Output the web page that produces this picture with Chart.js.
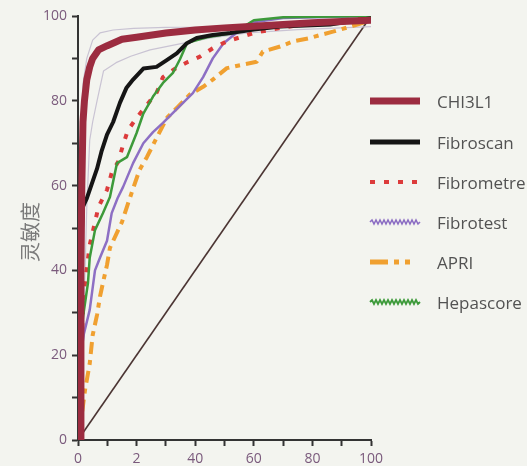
<!DOCTYPE html>
<html><head><meta charset="utf-8">
<script src="https://cdn.jsdelivr.net/npm/chart.js@4/dist/chart.umd.min.js"></script>
<style>
html,body{margin:0;padding:0;background:#f3f4ef;}
#wrap{position:relative;width:527px;height:466px;overflow:hidden;}
#legend{position:absolute;left:0;top:0;width:527px;height:466px;pointer-events:none;}
.item{position:absolute;left:368px;height:20px;display:flex;align-items:center;font-family:"Open Sans","Noto Sans",sans-serif;font-size:17px;color:#525252;white-space:nowrap;}
.item svg{width:56px;height:14px;margin-right:13px;flex:none;}
#ytitle{position:absolute;left:30px;top:232px;transform:translate(-50%,-50%) rotate(-90deg);font-family:"Noto Sans CJK SC",sans-serif;font-size:20px;font-weight:400;color:#7a7a7a;white-space:nowrap;line-height:1;}
</style></head>
<body><div id="wrap"><canvas id="c" width="527" height="466"></canvas><div id="legend"></div><div id="ytitle">灵敏度</div></div>
<script>
const seriesNames = ["CHI3L1","Fibroscan","Fibrometre","Fibrotest","APRI","Hepascore"];
const xTickLabels = ["0","2","40","60","80","100"];
const yTickLabels = ["0","20","40","60","80","100"];

const chi3l1 = [[0,0],[1,0],[1,40],[1.3,60],[1.7,75],[2.2,80],[3,85],[4,88],[5,90],[7,92],[10,93],[15,94.5],[20,95],[30,96],[40,96.7],[50,97.2],[60,97.6],[70,98],[80,98.4],[90,98.7],[100,99]];
const chiUpper = [[0,0],[0.3,40],[0.8,70],[1.7,84],[3,90],[5,94.3],[7.5,96],[12,96.7],[19,97.1],[30,97.3],[42,97.4],[60,98],[80,98.6],[100,99.2]];
const chiLower = [[1.5,0],[2,30],[3,55],[4,70.7],[5,75],[6.5,80],[8.7,87],[13,89],[18,90.5],[24.6,92],[36,93.6],[45,94.8],[58,96],[75,96.8],[100,97.5]];
const fibroscan = [[0,0],[0.3,20],[0.5,30],[1,45],[1.7,55],[3,57],[5,61],[6.5,64],[8,68],[9.9,72],[12,75],[14.3,79.5],[16.5,83],[18.8,85],[22.3,87.6],[26.8,88],[30.3,89.6],[33.7,91.2],[37,93.5],[40.5,94.8],[46,95.5],[52,96],[60,96.8],[69,97.5],[86,98],[100,99.5]];
const fibrometre = [[0,0],[1,20],[2,35],[4,46],[7,55],[9.9,59],[11.5,63],[13.7,65.6],[15.4,69.6],[17,73],[20,76],[22.9,78.5],[26.9,82],[29,85.6],[33,87.5],[37.6,89.2],[41.6,90.4],[46,92.4],[50.8,94],[60,96],[70,97.3],[80,98.2],[90,99],[100,99.5]];
const fibrotest = [[0,0],[0.3,15],[0.7,19],[2,25],[4,30.7],[5.8,40],[7.5,43],[9.9,47],[11.5,53.5],[13.5,57],[15.4,59.7],[18.8,65.3],[22.3,70],[25.6,72.6],[29,74.8],[34.8,78.8],[39.2,81.8],[42.7,85.6],[46,90],[49.6,93.5],[54,96],[60,98.5],[70,99.5],[100,100]];
const apri = [[0,0],[0.7,3],[1.5,7],[2.4,11.8],[4,18],[5,24.7],[6.5,29.5],[7.5,33.8],[8.5,37],[9.9,41.3],[10.9,45.3],[13.7,49.5],[15,51.4],[16.7,55],[18.4,58.5],[21,63.7],[23.5,66.7],[27,71.5],[30.4,76],[34,78.5],[38.2,81.5],[42.7,83.3],[46,85],[50.8,87.7],[55.3,88.4],[61,89.2],[63.1,91.6],[69,92.8],[73.4,94],[79.2,94.8],[82.6,95.5],[87,96.3],[93,97.5],[100,99]];
const hepascore = [[0,0],[0.5,20],[1.7,29],[3.4,37],[4,43],[5.8,49.5],[8.5,53.5],[10.9,57.3],[13.3,65.3],[16.7,66.7],[20,72.4],[22.3,77],[25.6,81],[29,84.2],[32.4,86.6],[34.8,89.8],[37.2,93.6],[40.6,94.3],[44,95],[53,96],[60,99],[70,99.7],[100,100]];
const diagonal = [[0,0],[100,100]];

const toPts = a => a.map(p => ({x:p[0], y:p[1]}));
const styles = {
  CHI3L1:{c:"#9c2c40",w:7},
  Fibroscan:{c:"#151515",w:4},
  Fibrometre:{c:"#dc3b3b",w:4,d:[5,9]},
  Fibrotest:{c:"#8d6fc4",w:2.5},
  APRI:{c:"#f0a030",w:4,d:[12,6,5,6]},
  Hepascore:{c:"#3d9a3a",w:2.5}
};
function ds(label,data,c,w,d,order){
  return {label,data:toPts(data),borderColor:c,borderWidth:w,borderDash:d||[],pointRadius:0,fill:false,tension:0,order:order||0,borderCapStyle:'butt',borderJoinStyle:'round'};
}
const datasets = [
  ds("diag",diagonal,"#4b3533",1.6,null,10),
  ds("ciU",chiUpper,"#c9c3d3",1.2,null,9),
  ds("ciL",chiLower,"#c9c3d3",1.2,null,9),
  ds("APRI",apri,styles.APRI.c,styles.APRI.w,styles.APRI.d,6),
  ds("Fibrotest",fibrotest,styles.Fibrotest.c,styles.Fibrotest.w,null,5),
  ds("Fibrometre",fibrometre,styles.Fibrometre.c,styles.Fibrometre.w,styles.Fibrometre.d,4),
  ds("Hepascore",hepascore,styles.Hepascore.c,styles.Hepascore.w,null,3),
  ds("Fibroscan",fibroscan,styles.Fibroscan.c,styles.Fibroscan.w,null,2),
  ds("CHI3L1",chi3l1,styles.CHI3L1.c,styles.CHI3L1.w,null,1)
];
const tickColor = "#7a5a7c";
const bg = {id:'bg',beforeDraw(ch){const x=ch.ctx;x.save();x.fillStyle='#f3f4ef';x.fillRect(0,0,ch.width,ch.height);x.restore();}};
new Chart(document.getElementById('c'),{
  type:'line',
  data:{datasets},
  options:{
    responsive:false,animation:false,
    layout:{padding:{left:0,right:156,top:16,bottom:0}},
    plugins:{legend:{display:false},tooltip:{enabled:false}},
    scales:{
      x:{type:'linear',min:0,max:100,
        afterFit(s){s.height=26;},
        grid:{drawOnChartArea:false,drawTicks:true,tickLength:6,tickColor:'#333',tickWidth:2},
        border:{display:true,color:'#333',width:2},
        ticks:{stepSize:10,autoSkip:false,maxRotation:0,padding:5,color:tickColor,font:{family:"Open Sans",size:14},
          callback:(v)=> (v%20===0? xTickLabels[v/20] : '')}
      },
      y:{type:'linear',min:0,max:100,
        afterFit(s){s.width=78;},
        grid:{drawOnChartArea:false,drawTicks:true,tickLength:6,tickColor:'#333',tickWidth:2},
        border:{display:true,color:'#333',width:2},
        ticks:{stepSize:10,autoSkip:false,padding:5,color:tickColor,font:{family:"Open Sans",size:14},
          callback:(v)=> (v%20===0? yTickLabels[v/20] : '')},
        title:{display:false}
      }
    }
  },
  plugins:[bg]
});
// legend
const legendTops=[101,142,182,222,262,302];
const samples = {
  CHI3L1:'<line x1="2" y1="7" x2="52" y2="7" stroke="#9c2c40" stroke-width="7"/>',
  Fibroscan:'<line x1="2" y1="7" x2="52" y2="7" stroke="#151515" stroke-width="5"/>',
  Fibrometre:'<line x1="2" y1="7" x2="52" y2="7" stroke="#dc3b3b" stroke-width="4" stroke-dasharray="5 9"/>',
  Fibrotest:'<polyline points="2,7 4,5 6,9 8,5 10,9 12,5 14,9 16,5 18,9 20,5 22,9 24,5 26,9 28,5 30,9 32,5 34,9 36,5 38,9 40,5 42,9 44,5 46,9 48,5 50,9 52,7" fill="none" stroke="#8d6fc4" stroke-width="1.6"/>',
  APRI:'<line x1="2" y1="7" x2="52" y2="7" stroke="#f0a030" stroke-width="5" stroke-dasharray="18 6 5 6 5"/>',
  Hepascore:'<polyline points="2,7 4,5 6,9 8,5 10,9 12,5 14,9 16,5 18,9 20,5 22,9 24,5 26,9 28,5 30,9 32,5 34,9 36,5 38,9 40,5 42,9 44,5 46,9 48,5 50,9 52,7" fill="none" stroke="#3d9a3a" stroke-width="1.8"/>'
};
const lg=document.getElementById('legend');
seriesNames.forEach((n,i)=>{
  const d=document.createElement('div');d.className='item';d.style.top=(legendTops[i]-10)+'px';
  d.innerHTML='<svg viewBox="0 0 56 14">'+samples[n]+'</svg><span>'+n+'</span>';
  lg.appendChild(d);
});
</script></body></html>
